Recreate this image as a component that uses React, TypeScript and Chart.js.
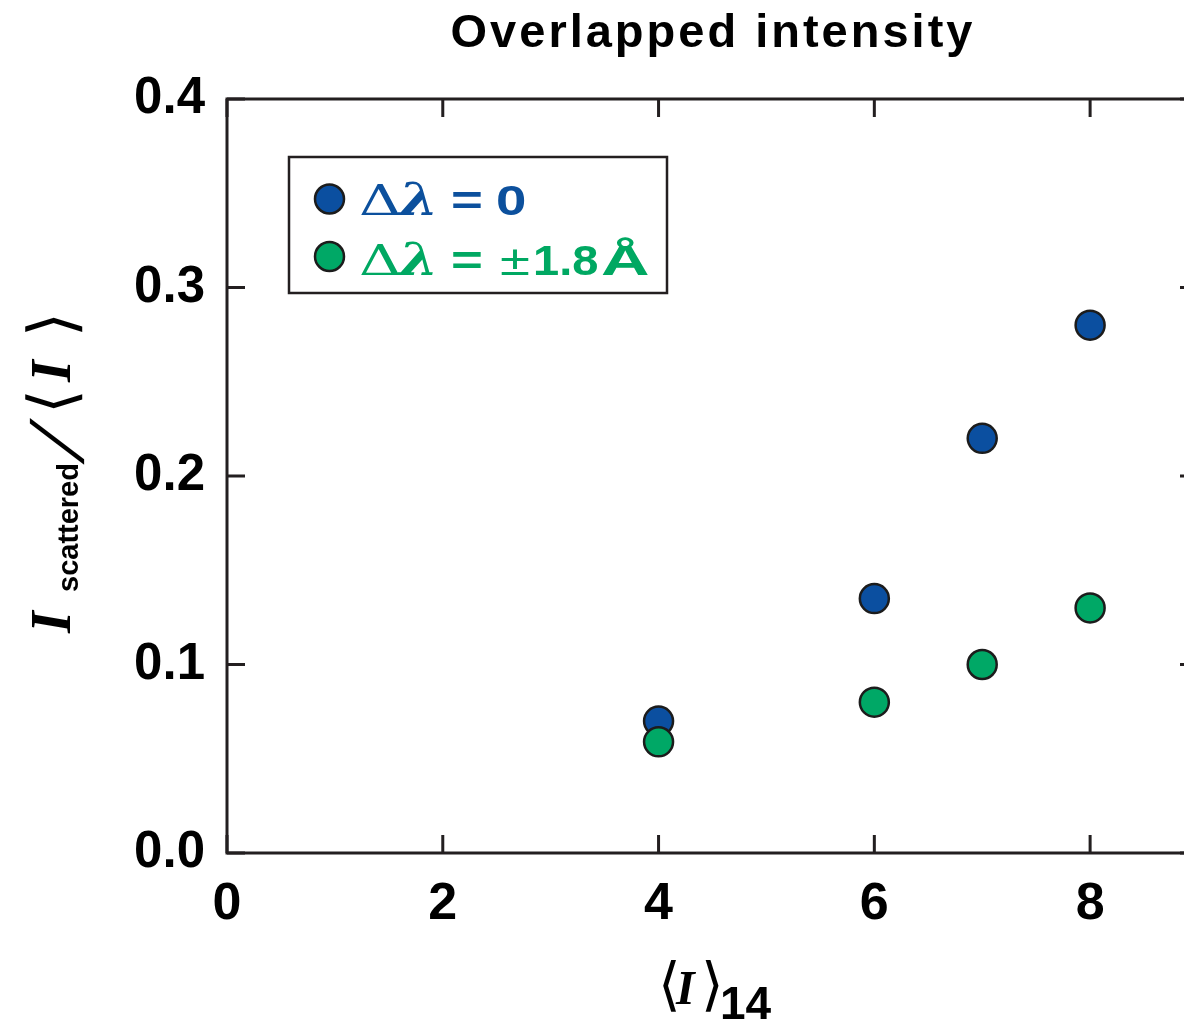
import { useEffect, useRef } from "react";
import { Chart, registerables } from "chart.js";

Chart.register(...registerables);

// ---- data ----
const xValues = [4, 6, 7, 8];
const seriesZero = [0.07, 0.135, 0.22, 0.28];
const seriesShift = [0.059, 0.08, 0.1, 0.13];
const xTicks = [0, 2, 4, 6, 8];
const yTicks = [0, 0.1, 0.2, 0.3, 0.4];
const titleText = "Overlapped intensity";
const seriesLabels = ["Δλ = 0", "Δλ = ±1.8 Å"];

const BLUE = "#0b4fa0";
const GREEN = "#00a866";
const BLUE_TXT = "#0c509d";
const GREEN_TXT = "#00a862";
const INK = "#231f20";
const MARK_EDGE = "#1c1c1c";

type Run = { t: string; f: string; x: number; dy?: number; c?: string; sx?: number; skew?: number };

function drawRuns(ctx: CanvasRenderingContext2D, runs: Run[], ox: number, oy: number, color: string) {
  ctx.textAlign = "left";
  ctx.textBaseline = "alphabetic";
  for (const r of runs) {
    ctx.save();
    ctx.font = r.f;
    ctx.fillStyle = r.c || color;
    ctx.translate(ox + r.x, oy + (r.dy || 0));
    if (r.skew) ctx.transform(1, 0, -r.skew, 1, 0, 0);
    ctx.scale(r.sx || 1, 1);
    ctx.fillText(r.t, 0, 0);
    ctx.restore();
  }
}

const SANS = "'Liberation Sans', Arial, sans-serif";
const SERIF = "'Liberation Serif', 'Times New Roman', serif";
const DJS = "'DejaVu Sans', sans-serif";
const DJSERIF = "'DejaVu Serif', serif";

const framePlugin = {
  id: "frame",
  afterDraw(chart: any) {
    const ctx: CanvasRenderingContext2D = chart.ctx;
    const { left, right, top, bottom } = chart.chartArea;
    const xs = chart.scales.x;
    const ys = chart.scales.y;
    ctx.save();
    // axes box
    ctx.strokeStyle = INK;
    ctx.lineWidth = 3;
    ctx.strokeRect(left, top, right - left, bottom - top);
    // inward ticks on all four sides
    const TL = 18;
    ctx.beginPath();
    for (const v of xTicks) {
      const px = xs.getPixelForValue(v);
      ctx.moveTo(px, bottom);
      ctx.lineTo(px, bottom - TL);
      ctx.moveTo(px, top);
      ctx.lineTo(px, top + TL);
    }
    for (const v of yTicks) {
      const py = ys.getPixelForValue(v);
      ctx.moveTo(left, py);
      ctx.lineTo(left + TL, py);
      ctx.moveTo(right, py);
      ctx.lineTo(right - TL, py);
    }
    ctx.stroke();

    // title
    ctx.font = `bold 47px ${SANS}`;
    (ctx as any).letterSpacing = "3px";
    ctx.fillStyle = "#000";
    ctx.textAlign = "center";
    ctx.textBaseline = "alphabetic";
    ctx.fillText(titleText, 713, 47);
    (ctx as any).letterSpacing = "0px";

    // x axis title  <I>_14
    drawRuns(
      ctx,
      [
        { t: "⟨", f: `58px ${DJS}`, x: -2 },
        { t: "I", f: `italic bold 48px ${SERIF}`, x: 16 },
        { t: "⟩", f: `58px ${DJS}`, x: 41 },
        { t: "14", f: `bold 46px ${SANS}`, x: 60, dy: 15 },
      ],
      660,
      1004,
      "#000"
    );

    // y axis title  I_scattered / <I>
    ctx.save();
    ctx.translate(70, 633);
    ctx.rotate(-Math.PI / 2);
    drawRuns(
      ctx,
      [
        { t: "I", f: `italic bold 56px ${SERIF}`, x: 0 },
        { t: "scattered", f: `bold 29px ${SANS}`, x: 41, dy: 8 },
        { t: "/", f: `66px ${DJS}`, x: 171, dy: 8, skew: 0.45 },
        { t: "⟨", f: `64px ${DJS}`, x: 219, dy: 4 },
        { t: "I", f: `italic bold 56px ${SERIF}`, x: 251 },
        { t: "⟩", f: `64px ${DJS}`, x: 296, dy: 4 },
      ],
      0,
      0,
      "#000"
    );
    ctx.restore();

    // legend
    const lx = 289, ly = 157, lw = 378, lh = 136;
    ctx.fillStyle = "#fff";
    ctx.fillRect(lx, ly, lw, lh);
    ctx.strokeStyle = INK;
    ctx.lineWidth = 2.5;
    ctx.strokeRect(lx, ly, lw, lh);
    const rows = [
      { cy: 199, base: 215, fill: BLUE, color: BLUE_TXT, label: seriesLabels[0] },
      { cy: 256.5, base: 275, fill: GREEN, color: GREEN_TXT, label: seriesLabels[1] },
    ];
    for (const r of rows) {
      ctx.beginPath();
      ctx.arc(329.5, r.cy, 14.5, 0, Math.PI * 2);
      ctx.fillStyle = r.fill;
      ctx.fill();
      ctx.lineWidth = 2.5;
      ctx.strokeStyle = MARK_EDGE;
      ctx.stroke();
      const value = r.label.split("= ")[1];
      const runs: Run[] = [
        { t: "Δ", f: `42px ${DJSERIF}`, x: 359, sx: 1.4 },
        { t: "λ", f: `italic bold 45px ${DJSERIF}`, x: 399, sx: 1.25 },
        { t: "=", f: `bold 42px ${SANS}`, x: 451, sx: 1.3 },
      ];
      if (value.startsWith("±")) {
        runs.push({ t: "±", f: `42px ${SANS}`, x: 500, sx: 1.3 });
        const rest = value.slice(1).split(" ");
        runs.push({ t: rest[0], f: `bold 42px ${SANS}`, x: 533, sx: 1.12 });
        runs.push({ t: rest[1], f: `bold 42px ${SANS}`, x: 601, sx: 1.6 });
      } else {
        runs.push({ t: value, f: `bold 42px ${SANS}`, x: 496, sx: 1.3 });
      }
      drawRuns(ctx, runs, 0, r.base, r.color);
    }
    ctx.restore();
  },
};

export default function App() {
  const ref = useRef<HTMLCanvasElement | null>(null);
  useEffect(() => {
    if (!ref.current) return;
    const chart = new Chart(ref.current, {
      type: "scatter",
      data: {
        datasets: [
          {
            label: seriesLabels[0],
            data: xValues.map((x, i) => ({ x, y: seriesZero[i] })),
            backgroundColor: BLUE,
            borderColor: MARK_EDGE,
            borderWidth: 2.5,
            pointRadius: 14.5,
            pointHoverRadius: 14.5,
            order: 2,
          },
          {
            label: seriesLabels[1],
            data: xValues.map((x, i) => ({ x, y: seriesShift[i] })),
            backgroundColor: GREEN,
            borderColor: MARK_EDGE,
            borderWidth: 2.5,
            pointRadius: 14.5,
            pointHoverRadius: 14.5,
            order: 1,
          },
        ],
      },
      options: {
        responsive: false,
        animation: false,
        devicePixelRatio: 1,
        events: [],
        layout: { padding: { top: 99, right: 0, left: 0, bottom: 0 } },
        plugins: {
          legend: { display: false },
          title: { display: false },
          tooltip: { enabled: false },
        },
        scales: {
          x: {
            type: "linear",
            min: 0,
            max: 9,
            afterBuildTicks: (s: any) => {
              s.ticks = xTicks.map((v) => ({ value: v }));
            },
            afterFit: (s: any) => {
              s.height = 166;
              s.paddingLeft = 0;
              s.paddingRight = 0;
            },
            grid: { display: false, drawTicks: false },
            border: { display: false },
            ticks: {
              color: "#000",
              font: { family: "'Liberation Sans', Arial, sans-serif", weight: "bold", size: 52 },
              padding: 20,
              maxRotation: 0,
              autoSkip: false,
              callback: (v: any) => String(v),
            },
          },
          y: {
            type: "linear",
            min: 0,
            max: 0.4,
            afterBuildTicks: (s: any) => {
              s.ticks = yTicks.map((v) => ({ value: v }));
            },
            afterFit: (s: any) => {
              s.width = 227;
              s.paddingTop = 0;
              s.paddingBottom = 0;
            },
            grid: { display: false, drawTicks: false },
            border: { display: false },
            ticks: {
              color: "#000",
              font: { family: "'Liberation Sans', Arial, sans-serif", weight: "bold", size: 51 },
              padding: 22,
              autoSkip: false,
              callback: (v: any) => Number(v).toFixed(1),
            },
          },
        },
      } as any,
      plugins: [framePlugin],
    });
    return () => chart.destroy();
  }, []);
  return (
    <div
      style={{
        position: "fixed",
        left: 0,
        top: 0,
        width: 1184,
        height: 1019,
        overflow: "hidden",
        background: "#fff",
      }}
    >
      <canvas ref={ref} width={1215} height={1019} style={{ display: "block" }} />
    </div>
  );
}
